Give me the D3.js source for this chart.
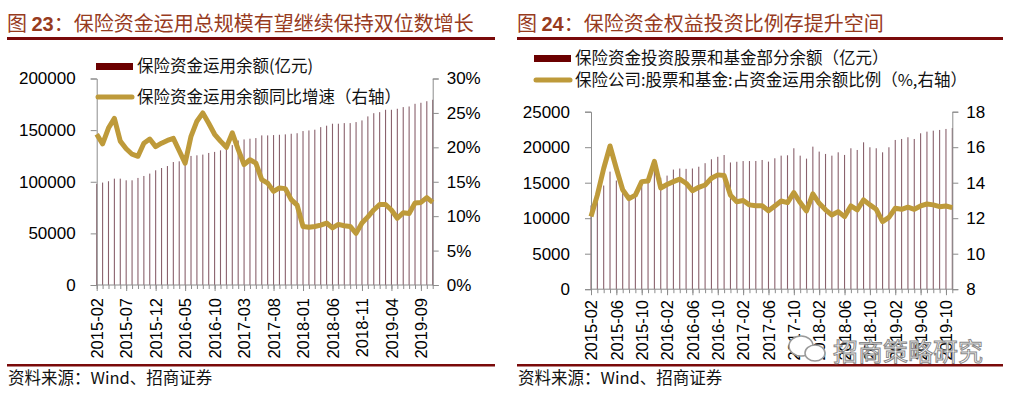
<!DOCTYPE html>
<html>
<head>
<meta charset="utf-8">
<script src="https://cdn.jsdelivr.net/npm/d3@7/dist/d3.min.js"></script>
<style>
    body { margin: 0; background: #fff; }
    svg { display: block; font-family: "Liberation Sans", Arial, sans-serif; }
</style>
</head>
<body>
<svg id="chart" width="1015" height="395"></svg>
<script>
// monthly categories, 2015-02 .. 2019-11
const months = [
    '2015-02','2015-03','2015-04','2015-05','2015-06','2015-07','2015-08','2015-09','2015-10','2015-11','2015-12',
    '2016-01','2016-02','2016-03','2016-04','2016-05','2016-06','2016-07','2016-08','2016-09','2016-10','2016-11','2016-12',
    '2017-01','2017-02','2017-03','2017-04','2017-05','2017-06','2017-07','2017-08','2017-09','2017-10','2017-11','2017-12',
    '2018-01','2018-02','2018-03','2018-04','2018-05','2018-06','2018-07','2018-08','2018-09','2018-10','2018-11','2018-12',
    '2019-01','2019-02','2019-03','2019-04','2019-05','2019-06','2019-07','2019-08','2019-09','2019-10','2019-11'
];

// fig 23: total balance (亿元) and yoy growth (%)
const fundBalance = [
    98000, 99200, 100500, 103000, 103000, 101400, 101400, 103700, 105600, 107900, 111100,
    113300, 115200, 119100, 119800, 124000, 125000, 125600, 126300, 127900, 128900, 130400, 132000,
    135500, 140000, 141000, 141700, 142300, 144900, 144900, 145200, 145500, 145900, 146500, 147000,
    149100, 149700, 150400, 152900, 154300, 156200, 156200, 156800, 156800, 157800, 159400, 163300,
    166400, 167400, 169700, 169700, 170700, 172300, 172900, 175500, 176500, 178000, 179400
];
const fundGrowth = [
    21.9, 20.5, 22.8, 24.2, 20.9, 19.8, 19.0, 18.7, 20.6, 21.2, 20.1,
    20.6, 21.0, 21.3, 19.5, 17.7, 21.6, 23.8, 25.0, 23.5, 21.9, 20.9, 20.0,
    22.1, 19.7, 17.5, 18.2, 17.7, 15.3, 14.8, 13.6, 14.1, 14.0, 12.4, 11.6,
    8.5, 8.4, 8.5, 8.7, 9.0, 8.3, 8.8, 8.6, 8.5, 7.5, 9.0, 9.9,
    10.9, 11.7, 11.7, 10.9, 9.7, 10.5, 10.4, 11.9, 12.0, 12.7, 12.0
];

// fig 24: stocks & funds balance (亿元) and share of total (%)
const equityBalance = [
    11800, 13100, 14600, 16560, 15300, 13800, 13300, 13800, 14850, 15200, 16800,
    15700, 16000, 16850, 17000, 16950, 17000, 17250, 17750, 18300, 18650, 18900, 17850,
    17950, 18050, 18050, 18060, 18200, 17970, 18440, 18810, 18860, 19850, 18810, 18390,
    20080, 19380, 19050, 18810, 19280, 18910, 19850, 19610, 20690, 19990, 19850, 19280,
    19990, 21020, 21160, 21400, 21160, 21960, 22190, 22330, 22430, 22570, 22700
];
const equityShare = [
    12.1, 13.3, 14.8, 16.07, 14.8, 13.6, 13.1, 13.3, 14.06, 14.1, 15.2,
    13.7, 13.9, 14.06, 14.2, 13.97, 13.55, 13.74, 13.87, 14.25, 14.44, 14.4, 13.3,
    12.93, 13.0, 12.75, 12.7, 12.7, 12.42, 12.69, 12.97, 12.88, 13.44, 12.88, 12.41,
    13.37, 12.84, 12.47, 12.18, 12.37, 12.09, 12.69, 12.47, 13.03, 12.75, 12.5, 11.81,
    12.05, 12.56, 12.5, 12.62, 12.5, 12.69, 12.8, 12.75, 12.65, 12.69, 12.6
];

const ticksLeftPanel = ['2015-02','2015-07','2015-12','2016-05','2016-10','2017-03','2017-08','2018-01','2018-06','2018-11','2019-04','2019-09'];
const ticksRightPanel = ['2015-02','2015-06','2015-10','2016-02','2016-06','2016-10','2017-02','2017-06','2017-10','2018-02','2018-06','2018-10','2019-02','2019-06','2019-10'];

const CJK = '"Noto Sans CJK SC", sans-serif';
const titleColor = '#973b1e';
const ruleColor = '#7a0a0a';
const barColor = '#8a626d';
const lineColor = '#be9a3a';
const axisColor = '#8c8c8c';

const svg = d3.select('#chart');

function header(x0, x1, num, text) {
    const t = svg.append('text')
        .attr('x', x0)
        .attr('y', 31)
        .attr('fill', titleColor)
        .style('font-size', '20px');
    t.append('tspan').style('font-family', CJK).text('图 ');
    t.append('tspan').style('font-weight', 'bold').text(num);
    t.append('tspan').style('font-family', CJK).text('：' + text);

    svg.append('line')
        .attr('x1', x0).attr('x2', x1)
        .attr('y1', 38.5).attr('y2', 38.5)
        .attr('stroke', ruleColor).attr('stroke-width', 3);

    // source line at bottom
    svg.append('line')
        .attr('x1', x0).attr('x2', x1)
        .attr('y1', 365.3).attr('y2', 365.3)
        .attr('stroke', ruleColor).attr('stroke-width', 2.5);
    svg.append('text')
        .attr('x', x0 + 1)
        .attr('y', 384)
        .attr('fill', '#111')
        .style('font-family', CJK)
        .style('font-size', '16.5px')
        .text('资料来源：Wind、招商证券');
}

function panel(opt) {
    const x = d3.scalePoint()
        .domain(months)
        .range([opt.left, opt.right]);
    const yL = d3.scaleLinear().domain(opt.leftDomain).range([opt.bottom, opt.top]);
    const yR = d3.scaleLinear().domain(opt.rightDomain).range([opt.bottom, opt.top]);

    const g = svg.append('g');

    // bars
    g.selectAll('.bar')
        .data(opt.bars)
        .enter()
        .append('rect')
        .attr('class', 'bar')
        .attr('x', (d, i) => x(months[i]) - 0.55)
        .attr('y', d => yL(d))
        .attr('width', 1.1)
        .attr('height', d => yL(0) - yL(d))
        .attr('fill', barColor);

    // axes
    const leftAxis = d3.axisLeft(yL)
        .tickValues(opt.leftTicks)
        .tickFormat(opt.leftFormat)
        .tickSize(6)
        .tickPadding(opt.leftPad);
    const rightAxis = d3.axisRight(yR)
        .tickValues(opt.rightTicks)
        .tickFormat(opt.rightFormat)
        .tickSize(6)
        .tickPadding(8);
    const minorAxis = d3.axisBottom(x).tickValues(months).tickSize(4).tickFormat('');
    const bottomAxis = d3.axisBottom(x).tickValues(opt.xTicks).tickSize(6).tickPadding(0);

    const gl = g.append('g').attr('transform', `translate(${opt.left},0)`).call(leftAxis);
    const gr = g.append('g').attr('transform', `translate(${opt.right},0)`).call(rightAxis);
    const gm = g.append('g').attr('transform', `translate(0,${opt.bottom})`).call(minorAxis);
    const gb = g.append('g').attr('transform', `translate(0,${opt.bottom})`).call(bottomAxis);

    [gl, gr, gm, gb].forEach(a => {
        a.select('.domain').attr('stroke', axisColor);
        a.selectAll('.tick line').attr('stroke', axisColor);
        a.selectAll('text')
            .attr('fill', '#000')
            .style('font-family', '"Liberation Sans", Arial, sans-serif')
            .style('font-size', '17px');
    });
    gm.select('.domain').remove();
    gb.select('.domain').attr('d', `M${opt.left},0H${opt.right}`);

    gb.selectAll('text')
        .style('font-size', '16.5px')
        .attr('text-anchor', 'end')
        .attr('dy', '0.35em')
        .attr('transform', 'translate(0,' + (opt.labelTop - opt.bottom) + ') rotate(-90)')
        .attr('x', 0)
        .attr('y', 0);

    // line on the right axis
    const line = d3.line()
        .x((d, i) => x(months[i]))
        .y(d => yR(d));
    g.append('path')
        .datum(opt.line)
        .attr('d', line)
        .attr('fill', 'none')
        .attr('stroke', lineColor)
        .attr('stroke-width', 5)
        .attr('stroke-linejoin', 'round');

    // legend
    const lg = g.append('g');
    lg.append('rect')
        .attr('x', opt.legend.x).attr('y', opt.legend.y1 - 3.5)
        .attr('width', 37).attr('height', 7)
        .attr('fill', '#6b0000');
    lg.append('text')
        .attr('x', opt.legend.x + 41).attr('y', opt.legend.y1 + 5.5)
        .style('font-family', CJK).style('font-size', '16.5px').attr('fill', '#111')
        .text(opt.legend.bar);
    lg.append('line')
        .attr('x1', opt.legend.x + 2).attr('x2', opt.legend.x + 36)
        .attr('y1', opt.legend.y2).attr('y2', opt.legend.y2)
        .attr('stroke', lineColor).attr('stroke-width', 5).attr('stroke-linecap', 'round');
    lg.append('text')
        .attr('x', opt.legend.x + 41).attr('y', opt.legend.y2 + 6)
        .style('font-family', CJK).style('font-size', '16.5px').attr('fill', '#111')
        .text(opt.legend.line);
}

header(7, 495, '23', '保险资金运用总规模有望继续保持双位数增长');
header(517, 1003, '24', '保险资金权益投资比例存提升空间');

panel({
    left: 96.7, right: 432.7, top: 78.5, bottom: 285,
    leftDomain: [0, 200000], rightDomain: [0, 30],
    leftTicks: [0, 50000, 100000, 150000, 200000],
    rightTicks: [0, 5, 10, 15, 20, 25, 30],
    leftFormat: d3.format('d'), rightFormat: d => d + '%',
    leftPad: 15,
    xTicks: ticksLeftPanel, labelTop: 298,
    bars: fundBalance, line: fundGrowth,
    legend: { x: 96, y1: 66.5, y2: 97, bar: '保险资金运用余额(亿元)', line: '保险资金运用余额同比增速（右轴）' }
});

panel({
    left: 591, right: 952.3, top: 111.7, bottom: 289.2,
    leftDomain: [0, 25000], rightDomain: [8, 18],
    leftTicks: [0, 5000, 10000, 15000, 20000, 25000],
    rightTicks: [8, 10, 12, 14, 16, 18],
    leftFormat: d3.format('d'), rightFormat: d3.format('d'),
    leftPad: 15,
    xTicks: ticksRightPanel, labelTop: 300,
    bars: equityBalance, line: equityShare,
    legend: { x: 534, y1: 58.5, y2: 80, bar: '保险资金投资股票和基金部分余额（亿元）', line: '保险公司:股票和基金:占资金运用余额比例（%,右轴）' }
});

// watermark
const wm = svg.append('g');
wm.append('ellipse').attr('cx', 801).attr('cy', 346).attr('rx', 12).attr('ry', 10)
    .attr('fill', '#fff').attr('stroke', '#9a9a9a').attr('stroke-width', 1.5);
wm.append('ellipse').attr('cx', 815).attr('cy', 353).attr('rx', 10).attr('ry', 8)
    .attr('fill', '#fff').attr('stroke', '#9a9a9a').attr('stroke-width', 1.5);
wm.append('text')
    .attr('x', 833).attr('y', 361)
    .style('font-family', CJK).style('font-size', '25px')
    .attr('fill', '#fff').attr('stroke', '#8a8a8a').attr('stroke-width', 1)
    .text('招商策略研究');
</script>
</body>
</html>
